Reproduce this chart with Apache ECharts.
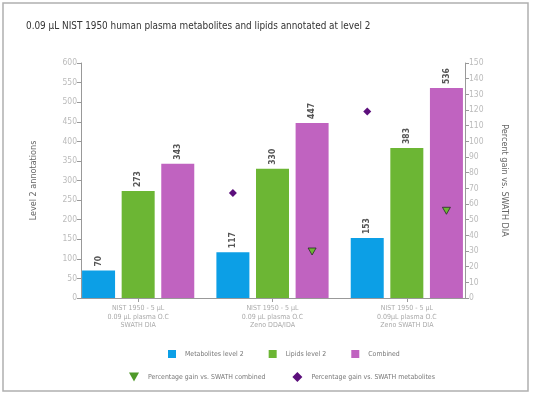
<!DOCTYPE html>
<html>
<head>
<meta charset="utf-8">
<script src="https://cdn.jsdelivr.net/npm/echarts@6/dist/echarts.min.js"></script>
<style>
html,body{margin:0;padding:0;background:#fff;}
#c{width:533px;height:393px;}
</style>
</head>
<body>
<div id="c"></div>
<script>
var titleText = '0.09 µL NIST 1950 human plasma metabolites and lipids annotated at level 2';
var categories = [
  'NIST 1950 - 5 µL\n0.09 µL plasma O.C\nSWATH DIA',
  'NIST 1950 - 5 µL\n0.09 µL plasma O.C\nZeno DDA/IDA',
  'NIST 1950 - 5 µL\n0.09µL plasma O.C\nZeno SWATH DIA'
];
var metabolites = [70, 117, 153];
var lipids = [273, 330, 383];
var combined = [343, 447, 536];
var gainMetabolites = ['-', 67, 119];
var gainCombined = ['-', 30, 56];
var leftAxisName = 'Level 2 annotations';
var rightAxisName = 'Percent gain vs. SWATH DIA';

var FONT = '"Liberation Sans Narrow", "DejaVu Sans Condensed", "Noto Sans", sans-serif';
var chart = echarts.init(document.getElementById('c'), null, {renderer: 'canvas'});

var triPath = 'path://M0,0L10,0L5,9Z';

var option = {
  backgroundColor: '#fff',
  animation: false,
  textStyle: {fontFamily: FONT},
  title: {
    text: titleText, left: 21, top: 16,
    textStyle: {fontFamily: FONT, fontSize: 9.9, fontWeight: 'normal', color: '#333'}
  },
  graphic: [{
    type: 'rect', shape: {x: 3, y: 3, width: 525, height: 388},
    style: {fill: 'none', stroke: '#b0b0b0', lineWidth: 1.5}, silent: true
  }],
  legend: [{
    left: 163, top: 345, itemWidth: 8, itemHeight: 8, itemGap: 25,
    textStyle: {fontFamily: FONT, fontSize: 6.9, color: '#777', padding: [0, 0, 0, 4]},
    data: [
      {name: 'Metabolites level 2', icon: 'rect'},
      {name: 'Lipids level 2', icon: 'rect'},
      {name: 'Combined', icon: 'rect'}
    ]
  }, {
    left: 124, top: 367, itemWidth: 10, itemHeight: 10, itemGap: 27,
    textStyle: {fontFamily: FONT, fontSize: 6.9, color: '#777', padding: [0, 0, 0, 4]},
    data: [
      {name: 'Percentage gain vs. SWATH combined', icon: triPath, itemStyle: {color: '#4f9a2a', borderWidth: 0}},
      {name: 'Percentage gain vs. SWATH metabolites', icon: 'diamond'}
    ]
  }],
  grid: [
    {left: 81, right: 68, top: 63, bottom: 95},
    {left: 71, width: 403, top: 63, bottom: 95}
  ],
  xAxis: [{
    type: 'category', gridIndex: 0, data: categories,
    axisLine: {show: true, lineStyle: {color: '#999', width: 1}},
    axisTick: {show: false}, axisLabel: {show: false}, splitLine: {show: false}
  }, {
    type: 'category', gridIndex: 1, data: categories,
    axisLine: {show: false},
    axisTick: {show: true, alignWithLabel: true, length: 4, lineStyle: {color: '#999'}},
    axisLabel: {fontFamily: FONT, fontSize: 7, color: '#aaa', lineHeight: 8.5, margin: 6},
    splitLine: {show: false}
  }],
  yAxis: [{
    type: 'value', gridIndex: 0, position: 'left', min: 0, max: 600, interval: 50,
    name: leftAxisName, nameLocation: 'middle', nameGap: 43,
    nameTextStyle: {fontFamily: FONT, fontSize: 9, color: '#666'},
    axisLine: {show: true, lineStyle: {color: '#999'}},
    axisTick: {show: true, length: 4, lineStyle: {color: '#999'}},
    axisLabel: {fontFamily: FONT, fontSize: 8.5, color: '#bbb', margin: 4},
    splitLine: {show: false}
  }, {
    type: 'value', gridIndex: 0, position: 'right', min: 0, max: 150, interval: 10,
    name: rightAxisName, nameLocation: 'middle', nameGap: 35, nameRotate: -90,
    nameTextStyle: {fontFamily: FONT, fontSize: 9, color: '#666'},
    axisLine: {show: true, lineStyle: {color: '#999'}},
    axisTick: {show: true, length: 4, lineStyle: {color: '#999'}},
    axisLabel: {fontFamily: FONT, fontSize: 8.5, color: '#bbb', margin: 4},
    splitLine: {show: false}
  }, {
    type: 'value', gridIndex: 1, min: 0, max: 600, show: false, splitLine: {show: false}
  }, {
    type: 'value', gridIndex: 1, min: 0, max: 150, show: false, splitLine: {show: false}
  }],
  series: (function () {
    var barLabel = {
      show: true, position: 'top', rotate: 90, align: 'left', verticalAlign: 'middle',
      distance: 4, fontFamily: FONT, fontSize: 8.5, fontWeight: 'bold', color: '#555'
    };
    function bar(name, data, color) {
      return {
        name: name, type: 'bar', xAxisIndex: 1, yAxisIndex: 2, data: data,
        barWidth: 33, barGap: '20%', itemStyle: {color: color}, label: barLabel
      };
    }
    function pic(name, data, symbol, size, style) {
      return {
        name: name, type: 'pictorialBar', xAxisIndex: 1, yAxisIndex: 3, data: data,
        barWidth: 33, barGap: '20%', symbol: symbol, symbolSize: size, symbolPatternSize: 10,
        symbolPosition: 'end', symbolOffset: [0, '-50%'], itemStyle: style, z: 5
      };
    }
    return [
      bar('Metabolites level 2', metabolites, '#0c9fe6'),
      bar('Lipids level 2', lipids, '#6cb634'),
      bar('Combined', combined, '#c063c0'),
      pic('Percentage gain vs. SWATH metabolites', gainMetabolites, 'diamond', [8, 8], {color: '#5c0f7c'}),
      pic('spacer', [], 'none', [1, 1], {color: 'transparent'}),
      pic('Percentage gain vs. SWATH combined', gainCombined, triPath, [8, 7], {color: '#6cb634', borderColor: '#2a2a2a', borderWidth: 1.1})
    ];
  })()
};
chart.setOption(option);
</script>
</body>
</html>
